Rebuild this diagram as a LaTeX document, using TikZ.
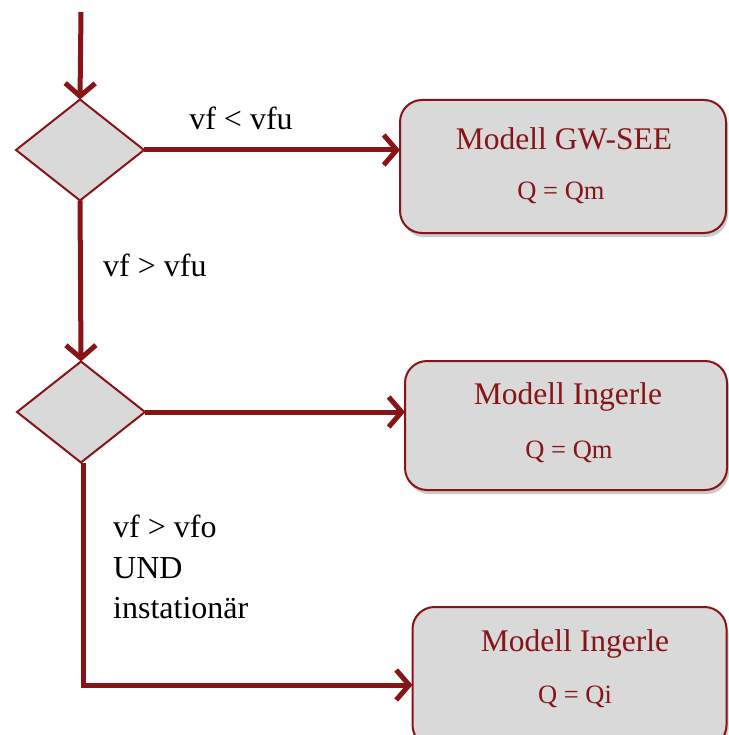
\documentclass[tikz,border=0pt]{standalone}
\usepackage{fontspec}
\setmainfont{Liberation Serif}
\usetikzlibrary{shapes.geometric,arrows.meta,shadows}
\definecolor{wine}{RGB}{135,20,22}
\definecolor{boxgray}{RGB}{217,217,217}
\tikzset{
  decision/.style={diamond, draw=wine, line width=2pt, fill=boxgray,
    minimum width=128pt, minimum height=101pt, inner sep=0pt, outer sep=0pt},
  modelbox/.style={rectangle, rounded corners=22pt, draw=wine, line width=2pt,
    fill=boxgray, inner sep=0pt, outer sep=0pt,
    drop shadow={shadow xshift=2pt, shadow yshift=-4pt, opacity=0.35, fill=black!60}},
  flow/.style={draw=wine, line width=5pt,
    -{Straight Barb[length=13pt, width=30pt, line width=5pt]}},
  flowline/.style={draw=wine, line width=5pt},
  title/.style={text=wine, font=\fontsize{31.5}{36}\selectfont, inner sep=0pt},
  formula/.style={text=wine, font=\fontsize{26.5}{30}\selectfont, inner sep=0pt},
  cond/.style={text=black, font=\fontsize{32}{40.5}\selectfont, inner sep=0pt},
}
\begin{document}
\begin{tikzpicture}[x=1pt, y=-1pt]
  \useasboundingbox (0,0) rectangle (728,735);

  % decisions
  \node[decision] (d1) at (80,150) {};
  \node[decision] (d2) at (81,412) {};

  % model boxes
  \node[modelbox, minimum width=326pt, minimum height=133pt] (m1) at (563,166.5) {};
  \node[modelbox, minimum width=322pt, minimum height=129pt] (m2) at (566,425.5) {};
  \node[modelbox, minimum width=314pt, minimum height=140pt] (m3) at (569.5,677) {};

  % box texts
  \node[title] (t1) at (564,139) {Modell GW-SEE};
  \node[formula] (f1) at (561,193) {Q = Qm};
  \node[title] (t2) at (568,397) {Modell Ingerle};
  \node[formula] (f2) at (569,452) {Q = Qm};
  \node[title] (t3) at (575,644) {Modell Ingerle};
  \node[formula] (f3) at (575,697) {Q = Qi};

  % condition labels
  \node[cond] (c1) at (241,118) {vf < vfu};
  \node[cond, anchor=west] (c2) at (103,265) {vf > vfu};
  \node[cond, anchor=north west, align=left] (c3) at (113,515)
    {vf > vfo\\UND\\instationär};

  % connectors
  \coordinate (start) at (81,12);
  \coordinate (corner) at (83,685);
  \draw[flow] (start) -- (d1.north);
  \draw[flow] (d1.east) -- (d1.east -| m1.west);
  \draw[flow] (d1.south) -- (d2.north);
  \draw[flow] (d2.east) -- (d2.east -| m2.west);
  \draw[flowline] (d2.south) ++(2,0) -- (corner);
  \draw[flow] ([xshift=-2.5pt]corner) -- (corner -| m3.west);
\end{tikzpicture}
\end{document}
